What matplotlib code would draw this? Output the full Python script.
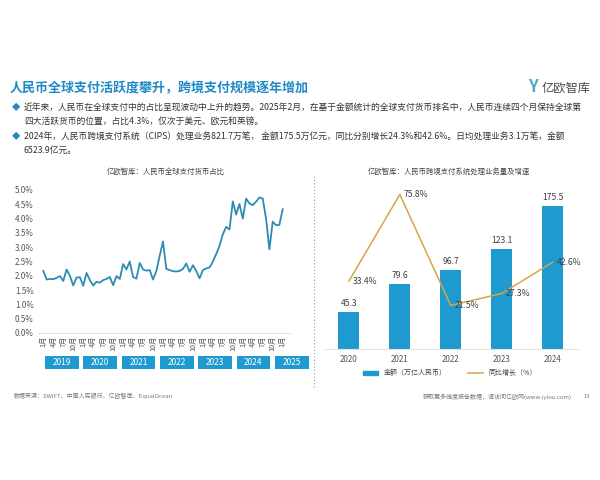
import numpy as np
import matplotlib.pyplot as plt
from matplotlib.patches import Rectangle, Patch
from matplotlib.lines import Line2D

plt.rcParams['font.family'] = ['Noto Sans CJK SC', 'DejaVu Sans']

# RMB share of global payments, monthly, Jan 2019 - Jan 2025 (%)
share_2019 = [2.17, 1.87, 1.89, 1.88, 1.93, 1.99, 1.82, 2.22, 2.00, 1.66, 1.94, 1.95]
share_2020 = [1.65, 2.10, 1.85, 1.66, 1.79, 1.76, 1.85, 1.89, 1.96, 1.67, 1.99, 1.89]
share_2021 = [2.41, 2.22, 2.50, 1.96, 1.90, 2.45, 2.22, 2.18, 2.20, 1.87, 2.17, 2.70]
share_2022 = [3.20, 2.24, 2.20, 2.16, 2.15, 2.17, 2.24, 2.43, 2.14, 2.37, 2.17, 1.91]
share_2023 = [2.20, 2.26, 2.29, 2.50, 2.76, 3.05, 3.45, 3.71, 3.62, 4.60, 4.14, 4.51]
share_2024 = [4.00, 4.70, 4.53, 4.47, 4.59, 4.74, 4.70, 4.00, 2.92, 3.89, 3.77, 3.78]
share_2025 = [4.33]
share_years = ['2019', '2020', '2021', '2022', '2023', '2024', '2025']
month_names = ['1月', '4月', '7月', '10月']

# CIPS amount (trillion RMB) and yoy growth (%)
cips_years = ['2020', '2021', '2022', '2023', '2024']
cips_amount = [45.3, 79.6, 96.7, 123.1, 175.5]
cips_growth = [33.4, 75.8, 21.5, 27.3, 42.6]

blue = '#1F9AD0'
line_blue = '#2E8CB3'
gold = '#D7A546'
title_blue = '#1D8AC6'


def fx(x):
    return x / 600


def fy(y):
    return 1 - y / 480


fig = plt.figure(figsize=(6, 4.8), dpi=100)

# header
fig.text(fx(10), fy(88), '人民币全球支付活跃度攀升，跨境支付规模逐年增加',
         fontsize=9.4, fontweight='bold', color=title_blue, va='center')
fig.text(fx(528), fy(87), 'Y', fontsize=12, fontweight='bold', color='#4FA9C8', va='center')
fig.text(fx(542), fy(88), '亿欧智库', fontsize=8.8, color='#4a4a4a', va='center')

bullets = [
    (108, '近年来，人民币在全球支付中的占比呈现波动中上升的趋势。2025年2月，在基于金额统计的全球支付货币排名中，人民币连续四个月保持全球第'),
    (121, '四大活跃货币的位置，占比4.3%，仅次于美元、欧元和英镑。'),
    (137, '2024年，人民币跨境支付系统（CIPS）处理业务821.7万笔， 金额175.5万亿元，同比分别增长24.3%和42.6%。日均处理业务3.1万笔，金额'),
    (150, '6523.9亿元。'),
]
for y, t in bullets:
    fig.text(fx(24), fy(y), t, fontsize=6.3, color='#333333', va='center')
for y in [108, 137]:
    fig.text(fx(12), fy(y), '◆', fontsize=6, color=title_blue, va='center')

fig.text(fx(166), fy(172), '亿欧智库：人民币全球支付货币占比', fontsize=5.3,
         color='#444444', ha='center', va='center')
fig.text(fx(449), fy(172), '亿欧智库：人民币跨境支付系统处理业务量及增速', fontsize=5.3,
         color='#444444', ha='center', va='center')

fig.add_artist(Line2D([fx(314), fx(314)], [fy(176), fy(388)], transform=fig.transFigure,
                      ls=(0, (1, 2)), color='#9a9a9a', lw=0.8))

# left chart: monthly share
share = np.array(share_2019 + share_2020 + share_2021 + share_2022
                 + share_2023 + share_2024 + share_2025)
months = np.arange(len(share))

ax1 = fig.add_axes([fx(38), fy(333), fx(290) - fx(38), fy(190) - fy(333)])
ax1.plot(months, share, color=line_blue, lw=1.3)
ax1.set_xlim(-1.6, 74.2)
ax1.set_ylim(0, 5)
ax1.set_yticks(np.arange(0, 5.01, 0.5))
ax1.set_yticklabels([f'{v:.1f}%' for v in np.arange(0, 5.01, 0.5)])
ticks = [m for m in range(0, len(share)) if m % 3 == 0]
ax1.set_xticks(ticks)
ax1.set_xticklabels([month_names[(m % 12) // 3] for m in ticks], rotation=90, va='top')
ax1.tick_params(axis='both', length=0, colors='#555555')
ax1.tick_params(axis='y', labelsize=5.8, pad=3)
ax1.tick_params(axis='x', labelsize=5.2, pad=2)
for s in ['top', 'right', 'left']:
    ax1.spines[s].set_visible(False)
ax1.spines['bottom'].set_color('#e3e3e3')

# year bands under the month labels (slightly tighter spacing than 12 months)
for k, yr in enumerate(share_years):
    cx, w = 5.6 + 11.52 * k, 10.1
    ax1.add_patch(Rectangle((cx - w / 2, -0.252), w, 0.091, transform=ax1.get_xaxis_transform(),
                            color=blue, clip_on=False, lw=0))
    ax1.text(cx, -0.252 + 0.0455, yr, transform=ax1.get_xaxis_transform(), ha='center',
             va='center', color='white', fontsize=6)

# right chart: CIPS amount and growth
ax2 = fig.add_axes([fx(325), fy(349.3), fx(578) - fx(325), fy(190) - fy(349.3)])
x = np.arange(len(cips_years))
bars = ax2.bar(x, cips_amount, width=0.41, color=blue)
ax2.bar_label(bars, labels=[f'{v}' for v in cips_amount], padding=3, fontsize=6.2, color='#404040')
ax2.set_xlim(-0.47, 4.5)
ax2.set_ylim(0, 195)
ax2.set_xticks(x)
ax2.set_xticklabels(cips_years)
ax2.set_yticks([])
ax2.tick_params(axis='x', length=0, labelsize=5.8, colors='#555555', pad=4)
for s in ['top', 'right', 'left']:
    ax2.spines[s].set_visible(False)
ax2.spines['bottom'].set_color('#e3e3e3')

ax3 = ax2.twinx()
ax3.plot(x, cips_growth, color=gold, lw=1.1)
ax3.set_ylim(0, 78)
ax3.set_yticks([])
for s in ax3.spines.values():
    s.set_visible(False)
for i, g in enumerate(cips_growth):
    ax3.annotate(f'{g}%', (i, g), xytext=(3, 0), textcoords='offset points',
                 ha='left', va='center', fontsize=6.2, color='#404040')

handles = [Patch(color=blue), Line2D([], [], color=gold, lw=1.1)]
ax2.legend(handles, ['金额（万亿人民币）', '同比增长（%）'], loc='upper center',
           bbox_to_anchor=(0.494, -0.085), ncol=2, frameon=False, fontsize=5,
           handlelength=2.2, handleheight=0.5, columnspacing=3, labelcolor='#444444')

# footer
fig.text(fx(14), fy(396), '数据来源：SWIFT、中国人民银行、亿欧智库、EqualOcean',
         fontsize=4.3, color='#777777', va='center')
fig.text(fx(423), fy(397), '获取更多维度报告数据，请访问亿欧网(www.iyiou.com)',
         fontsize=4.3, color='#777777', va='center')
fig.text(fx(583), fy(397), '13', fontsize=4.3, color='#777777', va='center')

fig.savefig('out.png', dpi=100, facecolor='white')
